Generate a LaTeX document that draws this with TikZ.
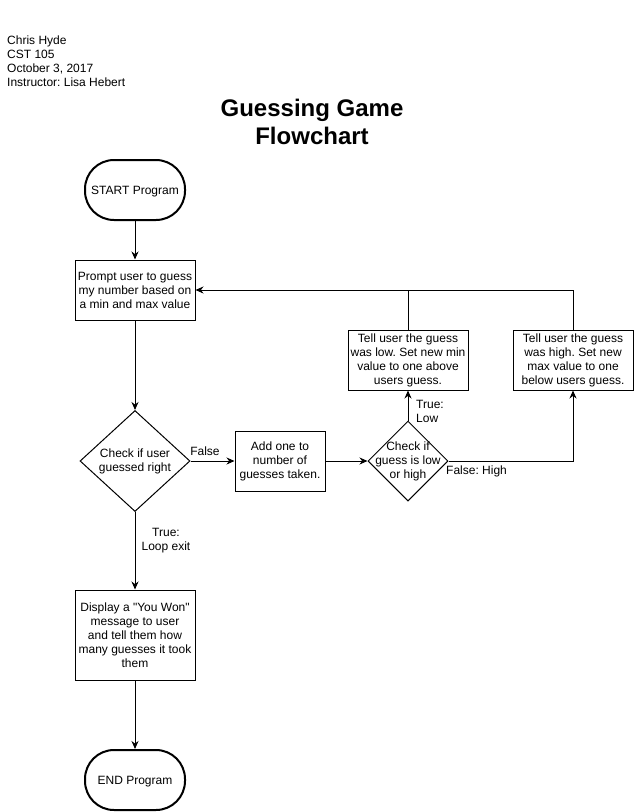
\documentclass[tikz,border=0pt]{standalone}
\usepackage{fontspec}
\setmainfont{Liberation Sans}
\usetikzlibrary{shapes.geometric,arrows.meta}
\frenchspacing
\begin{document}
\begin{tikzpicture}[x=1pt,y=-1pt,
  txt/.style={font=\fontsize{12}{14}\selectfont\frenchspacing, align=center, inner sep=0pt},
  box/.style={txt, draw, line width=1pt, minimum width=120pt, minimum height=60pt},
  term/.style={txt, draw, line width=2pt, rounded corners=29pt, minimum width=100pt, minimum height=60pt, text height=11pt, text depth=2pt},
  dia/.style={draw, diamond, line width=1pt, inner sep=0pt},
  arr/.style={-{Stealth[length=8pt,width=7pt]}, line width=1pt},
  lbl/.style={txt, fill=white, inner sep=0.5pt}]
\fill[white] (0,0) rectangle (634,812);
\useasboundingbox (0,0) rectangle (634,812);

\node[txt, align=left, anchor=north west] (hdr) at (7,35.5)
  {Chris Hyde\\CST 105\\October 3, 2017\\Instructor: Lisa Hebert};
\node[inner sep=0pt, align=center, font=\fontsize{24}{28}\selectfont\bfseries] (title) at (312,122)
  {Guessing Game\\Flowchart};

\node[term] (start) at (135,190) {START Program};
\node[box] (prompt) at (135,290) {Prompt user to guess\\my number based on\\a min and max value};
\node[dia, minimum width=110pt, minimum height=101pt] (d1) at (135,461) {};
\node[txt] (d1t) at (135,461) {Check if user\\guessed right};
\node[box, minimum width=90pt] (add) at (280,461) {Add one to\\number of\\guesses taken.};
\node[dia, minimum width=80pt, minimum height=80pt] (d2) at (408,461) {};
\node[txt] (d2t) at (408,461) {Check if\\guess is low\\or high};
\node[box] (low) at (408,360) {Tell user the guess\\was low. Set new min\\value to one above\\users guess.};
\node[box] (high) at (573,360) {Tell user the guess\\was high. Set new\\max value to one\\below users guess.};
\node[box, minimum height=90pt] (disp) at (135,635) {Display a \textquotedbl You Won\textquotedbl\\message to user\\and tell them how\\many guesses it took\\them};
\node[term] (end) at (135,780) {END Program};

\draw[arr] (start) -- (prompt);
\draw[arr] (prompt) -- (d1);
\draw[arr] (d1.east) -- (add.west);
\draw[arr] (d1.south) -- (disp.north);
\draw[arr] (disp) -- (end);
\draw[arr] (add.east) -- (d2.west);
\draw[arr] (d2.north) -- (low.south);
\draw[arr] (d2.east) -| (high.south);
\draw[line width=1pt] (high.north) |- (low.north |- prompt.east);
\draw[arr] (low.north) |- (prompt.east);

\node[lbl] (lf) at (205,451) {False};
\node[txt] (lt) at (166,541) {True:\\Loop exit};
\node[txt, align=left, anchor=west] (ltl) at (416,411) {True:\\Low};
\node[txt, anchor=west] (lfh) at (446,471) {False: High};
\end{tikzpicture}
\end{document}
